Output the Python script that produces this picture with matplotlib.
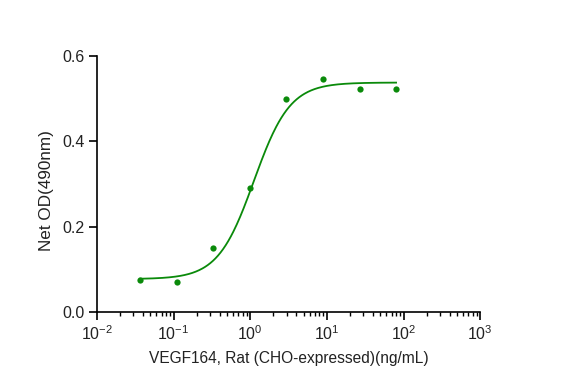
import numpy as np
import matplotlib
matplotlib.use("Agg")
import matplotlib.pyplot as plt
from matplotlib.ticker import LogLocator

plt.rcParams["font.family"] = ["Liberation Sans", "DejaVu Sans"]
plt.rcParams["mathtext.fontset"] = "custom"
plt.rcParams["mathtext.rm"] = "Liberation Sans"

# data
conc = [0.0366, 0.110, 0.329, 0.988, 2.96, 8.89, 26.7, 80.0]
od = [0.076, 0.071, 0.150, 0.291, 0.499, 0.547, 0.524, 0.524]

# 4PL fit parameters (estimated)
bottom = 0.077
top = 0.538
ec50 = 1.12
hill = 1.85

green = "#0a8a0a"

fig = plt.figure(figsize=(5.73, 3.87), dpi=100)
ax = fig.add_axes([0.169, 0.194, 0.669, 0.661])

xs = np.logspace(np.log10(conc[0]), np.log10(conc[-1]), 300)
ys = bottom + (top - bottom) / (1 + (ec50 / xs) ** hill)
ax.plot(xs, ys, color=green, lw=1.3)
ax.plot(conc, od, "o", color=green, ms=4.5, mec="none")

ax.set_xscale("log")
ax.set_xlim(1e-2, 1e3)
ax.set_ylim(0, 0.6)
ax.set_yticks([0.0, 0.2, 0.4, 0.6])
ax.set_yticklabels(["0.0", "0.2", "0.4", "0.6"])
ax.xaxis.set_major_locator(LogLocator(base=10, numticks=10))
ax.xaxis.set_minor_locator(LogLocator(base=10, subs=np.arange(2, 10), numticks=20))

for s in ["top", "right"]:
    ax.spines[s].set_visible(False)
for s in ["left", "bottom"]:
    ax.spines[s].set_linewidth(1.2)

ax.tick_params(axis="both", which="major", direction="out", length=5.5, width=1.2,
               labelsize=11.5, color="black", labelcolor="#222222")
ax.tick_params(axis="x", which="minor", direction="out", length=3, width=1.0)

ax.set_xlabel("VEGF164, Rat (CHO-expressed)(ng/mL)", fontsize=11.2, labelpad=6,
              color="#222222")
ax.set_ylabel("Net OD(490nm)", fontsize=12.3, color="#222222")
ax.yaxis.set_label_coords(-0.113, 0.473)

fig.savefig("out.png", dpi=100)
